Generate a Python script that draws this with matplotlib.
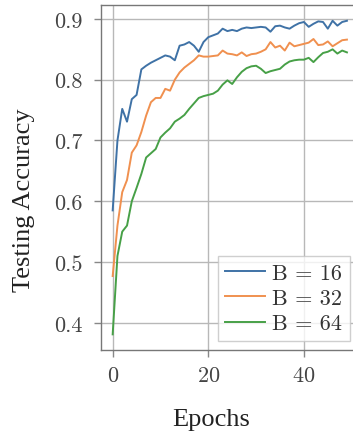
import matplotlib
matplotlib.use("Agg")
import matplotlib.pyplot as plt
import numpy as np

epochs = list(range(50))
acc_b16 = [0.585, 0.700, 0.752, 0.731, 0.768, 0.775, 0.817, 0.823, 0.828, 0.832,
           0.836, 0.840, 0.838, 0.832, 0.856, 0.858, 0.862, 0.856, 0.846, 0.862,
           0.870, 0.873, 0.876, 0.884, 0.880, 0.882, 0.880, 0.884, 0.886, 0.885,
           0.886, 0.887, 0.886, 0.879, 0.888, 0.889, 0.886, 0.884, 0.889, 0.893,
           0.895, 0.887, 0.892, 0.896, 0.895, 0.884, 0.897, 0.889, 0.895, 0.897]
acc_b32 = [0.477, 0.560, 0.615, 0.635, 0.680, 0.692, 0.714, 0.741, 0.763, 0.770,
           0.770, 0.785, 0.782, 0.800, 0.812, 0.820, 0.826, 0.832, 0.840, 0.838,
           0.838, 0.839, 0.840, 0.848, 0.843, 0.842, 0.840, 0.845, 0.839, 0.842,
           0.843, 0.846, 0.850, 0.862, 0.853, 0.856, 0.848, 0.861, 0.855, 0.857,
           0.859, 0.861, 0.867, 0.857, 0.858, 0.863, 0.855, 0.860, 0.865, 0.866]
acc_b64 = [0.381, 0.510, 0.550, 0.560, 0.600, 0.622, 0.645, 0.672, 0.679, 0.686,
           0.705, 0.713, 0.720, 0.731, 0.736, 0.742, 0.752, 0.761, 0.770, 0.773,
           0.775, 0.777, 0.782, 0.792, 0.799, 0.793, 0.804, 0.813, 0.819, 0.822,
           0.823, 0.818, 0.811, 0.814, 0.816, 0.818, 0.825, 0.830, 0.832, 0.833,
           0.833, 0.836, 0.829, 0.837, 0.844, 0.846, 0.850, 0.843, 0.848, 0.845]
labels = ["B = 16", "B = 32", "B = 64"]
xticks = [0, 20, 40]
yticks = [0.4, 0.5, 0.6, 0.7, 0.8, 0.9]

plt.rcParams['font.family'] = ['cmr10', 'DejaVu Serif']
plt.rcParams['axes.formatter.use_mathtext'] = True
plt.rcParams['mathtext.fontset'] = 'cm'

fig = plt.figure(figsize=(3.53, 4.35), dpi=100)
ax = fig.add_axes([0.286, 0.193, 0.730, 0.793])

colors = ['#3f72a6', '#f0904f', '#47a047']
for ys, lab, c in zip([acc_b16, acc_b32, acc_b64], labels, colors):
    ax.plot(epochs, ys, color=c, lw=1.4, label=lab)

ax.set_xticks(xticks)
ax.set_yticks(yticks)
ax.set_yticklabels([f"{v:.1f}" for v in yticks])
ax.grid(True, color='#b8b8b8', lw=1.0)
ax.set_axisbelow(True)
for s in ax.spines.values():
    s.set_color('#777777')
    s.set_linewidth(1.0)
ax.tick_params(direction='out', length=5, width=1, color='#888888',
               labelsize=16, labelcolor='#444444')
ax.tick_params(axis='y', pad=8)
ax.tick_params(axis='x', pad=6)

lab_font = ['Liberation Serif', 'DejaVu Serif']
xl = ax.set_xlabel("Epochs", fontsize=19, color='#222222', family=lab_font)
xl.set_va('baseline')
ax.xaxis.set_label_coords(0.427, -0.217)
yl = ax.set_ylabel("Testing Accuracy", fontsize=19, color='#222222', family=lab_font)
yl.set_va('center')
ax.yaxis.set_label_coords(-0.299, 0.438)

leg = ax.legend(loc='lower right', fontsize=16, frameon=True, fancybox=False,
                edgecolor='#c4c4c4', handlelength=1.8, handletextpad=0.3,
                borderpad=0.35, labelspacing=0.25, borderaxespad=0.4)
leg.get_frame().set_linewidth(1.0)
for t in leg.get_texts():
    t.set_color('#333333')

fig.savefig("out.png", dpi=100)
